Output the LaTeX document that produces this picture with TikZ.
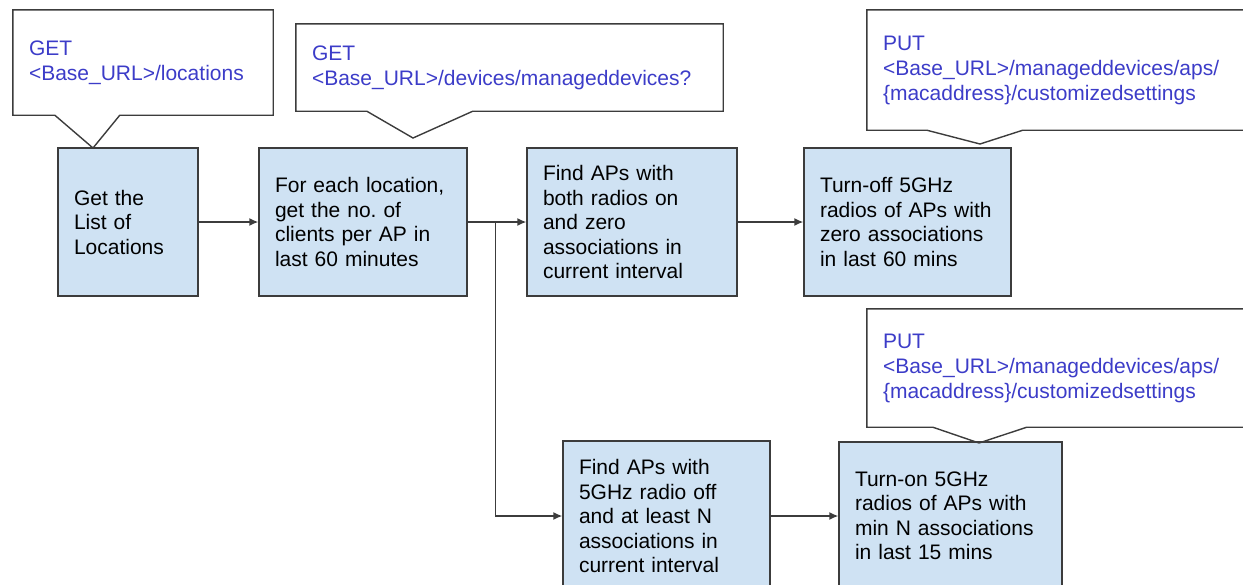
\documentclass[tikz,border=0pt]{standalone}
\usepackage{fontspec}
\setmainfont{Liberation Sans}
\usetikzlibrary{calc,arrows.meta}
\definecolor{boxblue}{HTML}{CFE2F3}
\definecolor{urlblue}{RGB}{60,60,200}
\definecolor{edgegray}{HTML}{3C3C3C}
\hyphenpenalty=10000
\frenchspacing

\begin{document}
\begin{tikzpicture}[x=1pt,y=-1pt,
    stage/.style={draw=edgegray,line width=1.4pt,fill=boxblue,minimum height=148pt,
      inner xsep=16pt,align=left,font=\fontsize{21}{24.5}\selectfont},
    bubble/.style={inner xsep=16pt,align=left,text=urlblue,font=\fontsize{21}{25}\selectfont},
    bubbleline/.style={draw=edgegray,line width=1.4pt},
    flow/.style={draw=edgegray,line width=1.4pt,-{Latex[length=9pt,width=8pt]}}]
  \useasboundingbox (0,0) rectangle (1243,584);
  \clip (0,0) rectangle (1243,584);

  % steps
  \node [stage,text width=108pt] (b1) at (128,222) {Get the\\List of\\Locations};
  \node [stage,text width=176pt] (b2) at (363,222) {For each location,\\get the no. of\\clients per AP in\\last 60 minutes};
  \node [stage,text width=178pt] (b3) at (632,222) {Find APs with\\both radios on\\and zero\\associations in\\current interval};
  \node [stage,text width=175pt] (b4) at (907.5,222) {Turn-off 5GHz\\radios of APs with\\zero associations\\in last 60 mins};
  \node [stage,text width=175pt,minimum height=150pt] (b5) at (666.5,516) {Find APs with\\5GHz radio off\\and at least N\\associations in\\current interval};
  \node [stage,text width=191pt] (b6) at (950.5,516) {Turn-on 5GHz\\radios of APs with\\min N associations\\in last 15 mins};

  % api calls
  \node [bubble,text width=228pt,minimum height=105pt] (get1) at (143,62.5) {GET\\<Base\_URL>/locations};
  \node [bubble,text width=395pt,minimum height=87pt] (get2) at (509.5,67.5) {GET\\<Base\_URL>/devices/manageddevices?};
  \node [bubble,text width=351pt,minimum height=120pt] (put1) at (1058.5,70) {PUT\\<Base\_URL>/manageddevices/aps/\\\{macaddress\}/customizedsettings};
  \node [bubble,text width=351pt,minimum height=118pt] (put2) at (1058.5,368) {PUT\\<Base\_URL>/manageddevices/aps/\\\{macaddress\}/customizedsettings};

  \coordinate (tip1) at (93,148);
  \coordinate (tip2) at (413,138);
  \coordinate (tip3) at (980,144);
  \coordinate (tip4) at (979,443);

  \draw [bubbleline] (get1.north west) -- (get1.north east) -- (get1.south east)
    -- ($(get1.south west)+(107,0)$) -- (tip1) -- ($(get1.south west)+(42,0)$)
    -- (get1.south west) -- cycle;
  \draw [bubbleline] (get2.north west) -- (get2.north east) -- (get2.south east)
    -- ($(get2.south west)+(177,0)$) -- (tip2) -- ($(get2.south west)+(71,0)$)
    -- (get2.south west) -- cycle;
  \draw [bubbleline] (put1.north west) -- (put1.north east) -- (put1.south east)
    -- ($(put1.south west)+(156,0)$) -- (tip3) -- ($(put1.south west)+(60,0)$)
    -- (put1.south west) -- cycle;
  \draw [bubbleline] (put2.north west) -- (put2.north east) -- (put2.south east)
    -- ($(put2.south west)+(160,0)$) -- (tip4) -- ($(put2.south west)+(66,0)$)
    -- (put2.south west) -- cycle;

  % flow
  \coordinate (split) at ($(b2.east)+(28,0)$);
  \draw [flow] (b1) -- (b2);
  \draw [flow] (b2) -- (b3);
  \draw [flow] (b3) -- (b4);
  \draw [flow] (split) |- (b5.west);
  \draw [flow] (b5) -- (b6);
\end{tikzpicture}
\end{document}
